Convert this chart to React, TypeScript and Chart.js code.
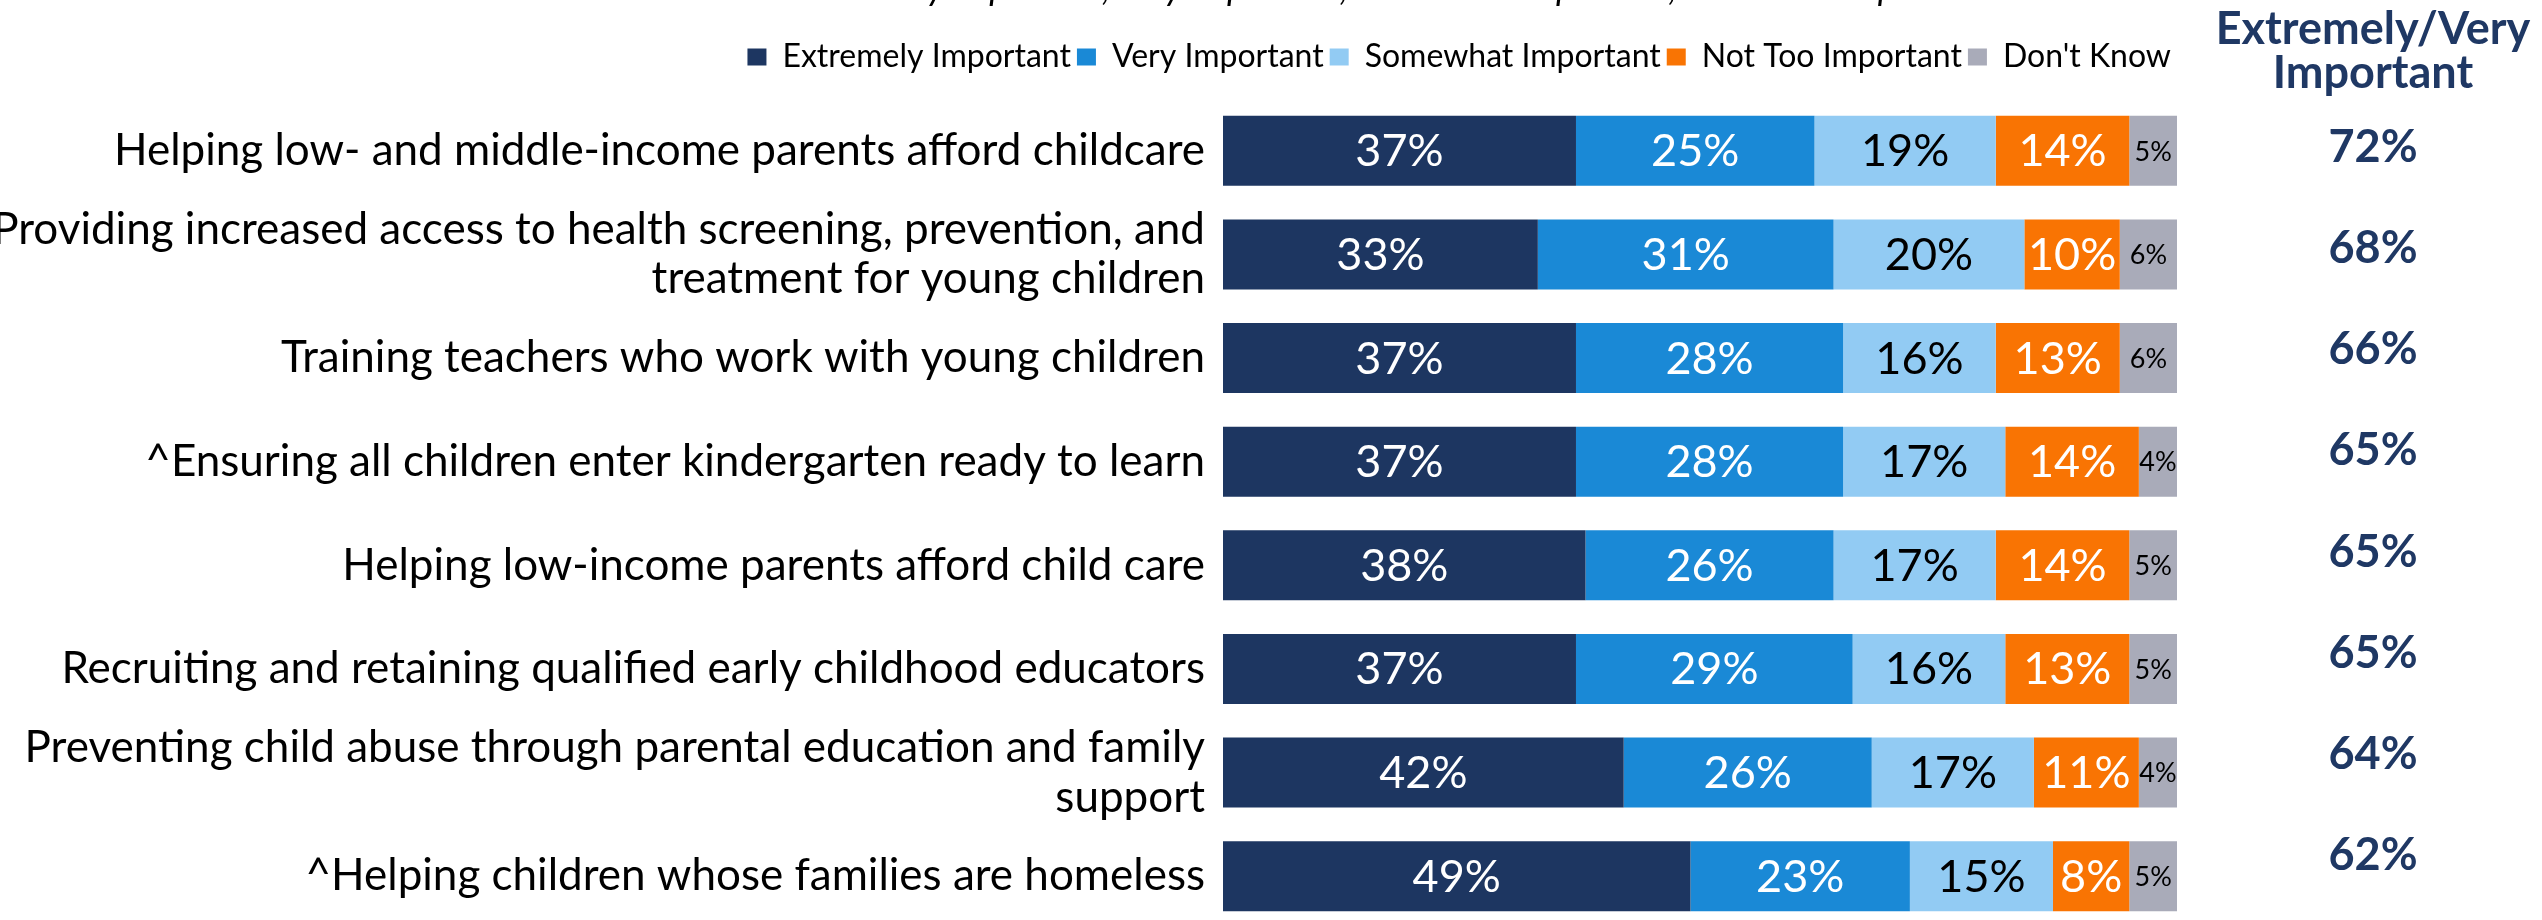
import React, { useEffect, useRef } from 'react';
import { Chart, registerables } from 'chart.js';

Chart.register(...registerables);

const categories: (string | string[])[] = [
  'Helping low- and middle-income parents afford childcare',
  ['Providing increased access to health screening, prevention, and', 'treatment for young children'],
  'Training teachers who work with young children',
  '^Ensuring all children enter kindergarten ready to learn',
  'Helping low-income parents afford child care',
  'Recruiting and retaining qualified early childhood educators',
  ['Preventing child abuse through parental education and family', 'support'],
  '^Helping children whose families are homeless',
];

const extremelyImportant = [37, 33, 37, 37, 38, 37, 42, 49];
const veryImportant = [25, 31, 28, 28, 26, 29, 26, 23];
const somewhatImportant = [19, 20, 16, 17, 17, 16, 17, 15];
const notTooImportant = [14, 10, 13, 14, 14, 13, 11, 8];
const dontKnow = [5, 6, 6, 4, 5, 5, 4, 5];
const extremelyVeryTotals = [72, 68, 66, 65, 65, 65, 64, 62];

const seriesNames = ['Extremely Important', 'Very Important', 'Somewhat Important', 'Not Too Important', "Don't Know"];
const seriesColors = ['#1D3661', '#1A89D6', '#92CBF3', '#F97403', '#A9ABB9'];
const labelColors = ['#FFFFFF', '#FFFFFF', '#000000', '#FFFFFF', '#000000'];
const totalsHeader = ['Extremely/Very', 'Important'];
const questionText = 'extremely important, very important, somewhat important, or not too important';

const FONT = 'Lato, "Open Sans", sans-serif';
const NAVY = '#1F3864';

export default function App() {
  const ref = useRef<HTMLCanvasElement>(null);

  useEffect(() => {
    const canvas = ref.current;
    if (!canvas) return;

    const valueLabels = {
      id: 'valueLabels',
      afterDatasetsDraw(chart: any) {
        const ctx = chart.ctx;
        ctx.save();
        ctx.textAlign = 'center';
        ctx.textBaseline = 'middle';
        chart.data.datasets.forEach((ds: any, di: number) => {
          const meta = chart.getDatasetMeta(di);
          meta.data.forEach((bar: any, i: number) => {
            const v = ds.data[i] as number;
            const size = di === 4 ? 27 : 45;
            ctx.font = `${size}px ${FONT}`;
            ctx.fillStyle = labelColors[di];
            const p = bar.getProps(['x', 'base', 'y'], true);
            ctx.fillText(`${v}%`, (p.x + p.base) / 2, p.y + 1);
          });
        });
        ctx.restore();
      },
    };

    const sideColumn = {
      id: 'sideColumn',
      afterDraw(chart: any) {
        const ctx = chart.ctx;
        const area = chart.chartArea;
        const yScale = chart.scales.y;
        const cx = area.right + 196;
        ctx.save();
        ctx.textAlign = 'center';
        ctx.textBaseline = 'middle';
        ctx.fillStyle = NAVY;
        ctx.font = `bold 45px ${FONT}`;
        ctx.fillText(totalsHeader[0], cx, 29);
        ctx.fillText(totalsHeader[1], cx, 73);
        const n = extremelyVeryTotals.length;
        const y0 = yScale.getPixelForValue(0) - 3;
        const yN = yScale.getPixelForValue(n - 1) - 21;
        extremelyVeryTotals.forEach((v, i) => {
          const y = y0 + ((yN - y0) * i) / (n - 1);
          ctx.fillText(`${v}%`, cx, y);
        });
        // question text, cut off by the top edge so that only its descenders show
        ctx.fillStyle = '#000000';
        ctx.font = `italic 36px ${FONT}`;
        ctx.textBaseline = 'alphabetic';
        ctx.fillText(questionText, 1394, 0);
        ctx.restore();
      },
    };

    const seriesData = [extremelyImportant, veryImportant, somewhatImportant, notTooImportant, dontKnow];

    const chart = new Chart(canvas, {
      type: 'bar',
      data: {
        labels: categories,
        datasets: seriesNames.map((name, i) => ({
          label: name,
          data: seriesData[i],
          backgroundColor: seriesColors[i],
          borderWidth: 0,
          barPercentage: 0.676,
          categoryPercentage: 1,
        })),
      },
      options: {
        indexAxis: 'y',
        animation: false,
        responsive: false,
        maintainAspectRatio: false,
        layout: { padding: { top: 35, right: 365, bottom: 12, left: 0 } },
        plugins: {
          legend: {
            position: 'top',
            align: 'end',
            labels: {
              boxWidth: 19,
              boxHeight: 17,
              padding: 6,
              color: '#000000',
              font: { family: FONT, size: 32 },
            },
          },
          tooltip: { enabled: false },
          title: { display: false },
        },
        scales: {
          x: {
            stacked: true,
            min: 0,
            max: 100,
            position: 'top',
            grid: { display: false },
            border: { display: false },
            ticks: { display: false },
            afterFit: (s: any) => {
              s.height = 16;
            },
          },
          y: {
            stacked: true,
            grid: { display: false },
            border: { display: false },
            ticks: {
              autoSkip: false,
              color: '#000000',
              padding: 10,
              font: { family: FONT, size: 44, lineHeight: 1.13 },
            },
            afterFit: (s: any) => {
              s.width = 1223;
              s.paddingTop = 0;
              s.paddingBottom = 0;
            },
          },
        },
      } as any,
      plugins: [valueLabels, sideColumn],
    });

    return () => chart.destroy();
  }, []);

  return (
    <div
      style={{
        position: 'fixed',
        left: 0,
        top: 0,
        width: 2542,
        height: 940,
        overflow: 'hidden',
        background: '#ffffff',
      }}
    >
      <canvas ref={ref} width={2542} height={940} style={{ display: 'block', width: 2542, height: 940 }} />
    </div>
  );
}
